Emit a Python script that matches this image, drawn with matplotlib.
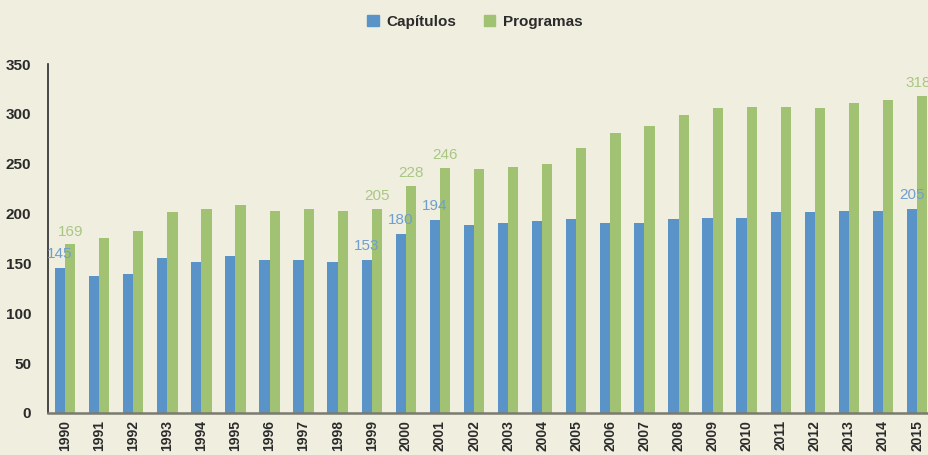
import matplotlib
matplotlib.use("Agg")
import matplotlib.pyplot as plt
from matplotlib.patches import Patch
import numpy as np

years = [str(y) for y in range(1990, 2016)]
capitulos = [145, 137, 139, 155, 151, 157, 153, 153, 151, 153, 180, 194, 189,
             191, 193, 195, 191, 191, 195, 196, 196, 202, 202, 203, 203, 205]
programas = [169, 176, 183, 202, 205, 209, 203, 205, 203, 205, 228, 246, 245,
             247, 250, 266, 281, 288, 299, 306, 307, 307, 306, 311, 314, 318]
labeled_years = ["1990", "1999", "2000", "2001", "2015"]
yticks = [0, 50, 100, 150, 200, 250, 300, 350]

BG = "#F0EEDF"
BLUE = "#5A93C8"
GREEN = "#A0C272"
BLUE_TXT = "#6F9FCF"
GREEN_TXT = "#A9C783"
DARK = "#2B2B2B"

plt.rcParams['font.family'] = ['Liberation Sans', 'DejaVu Sans']

fig = plt.figure(figsize=(9.29, 4.55), dpi=100, facecolor=BG)
ax = fig.add_axes([48/929, 1 - 413/455, 1 - 48/929, (413 - 64)/455])
ax.set_facecolor(BG)

x = np.arange(len(years))
w = 0.30
ax.bar(x - w/2, capitulos, width=w, color=BLUE, label="Capítulos")
ax.bar(x + w/2, programas, width=w, color=GREEN, label="Programas")

ax.set_xlim(-0.5, 25.35)
ax.set_ylim(0, 350)
ax.set_yticks(yticks)
ax.set_yticklabels([str(t) for t in yticks], fontsize=11, color=DARK, fontweight='bold')
ax.set_xticks(x)
ax.set_xticklabels(years, rotation=90, fontsize=10, color=DARK, fontweight='bold')
ax.tick_params(axis='both', length=0)
ax.tick_params(axis='y', pad=12)
ax.tick_params(axis='x', pad=5)

for s in ['top', 'right']:
    ax.spines[s].set_visible(False)
ax.spines['left'].set_color(DARK)
ax.spines['left'].set_linewidth(1.2)
ax.spines['bottom'].set_color('#7A7A70')
ax.spines['bottom'].set_linewidth(1.8)

for i, yr in enumerate(years):
    if yr in labeled_years:
        dx = -3 if i == len(years) - 1 else 0
        ax.annotate(str(capitulos[i]), (x[i] - w/2, capitulos[i]), xytext=(0, 5),
                    textcoords='offset points', ha='center', va='bottom',
                    fontsize=11, color=BLUE_TXT)
        ax.annotate(str(programas[i]), (x[i] + w/2, programas[i]), xytext=(dx, 4),
                    textcoords='offset points', ha='center', va='bottom',
                    fontsize=11, color=GREEN_TXT)

handles = [Patch(color=BLUE, label="Capítulos"), Patch(color=GREEN, label="Programas")]
leg = fig.legend(handles=handles, loc='center', bbox_to_anchor=(475/929, 1 - 22/455), ncol=2,
                 frameon=False, handlelength=0.75, handleheight=0.75,
                 columnspacing=1.8, handletextpad=0.5,
                 prop={'weight': 'bold', 'size': 11})
for t in leg.get_texts():
    t.set_color(DARK)

fig.savefig("out.png", dpi=100, facecolor=BG)
